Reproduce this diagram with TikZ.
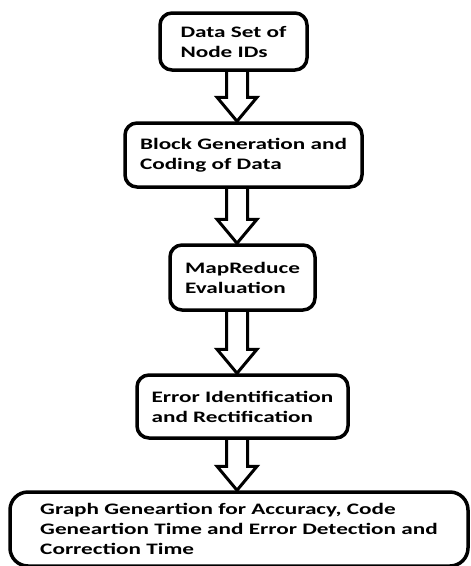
\documentclass[tikz,border=0pt]{standalone}
\usepackage{fontspec}
\setmainfont{Carlito}[FakeStretch=1.45]
\usetikzlibrary{calc}

\tikzset{
  stepbox/.style={draw, line width=3.5pt, rounded corners=12pt, align=left,
    font=\bfseries\fontsize{16}{20}\selectfont, inner sep=0pt},
  fatarrow/.style={line width=3pt, line join=miter,
    to path={let \p1=(\tikztostart), \p2=(\tikztotarget) in
      (\x1-10.5pt,\y1) -- (\x1-10.5pt,\y2+24pt) -- (\x1-20pt,\y2+24pt) -- (\x2,\y2)
      -- (\x1+20pt,\y2+24pt) -- (\x1+10.5pt,\y2+24pt) -- (\x1+10.5pt,\y1)}}
}

\begin{document}
\begin{tikzpicture}[x=1pt,y=-1pt]
  \useasboundingbox (0,0) rectangle (471,566);
  \coordinate (axis) at (237,0);
  \node[stepbox, minimum width=147pt, minimum height=57pt] (data) at (233.5,41.5) {Data Set of\\Node IDs};
  \node[stepbox, minimum width=237pt, minimum height=64pt] (block) at (243.5,155) {Block Generation and\\Coding of Data};
  \node[stepbox, minimum width=145pt, minimum height=65pt] (mapred) at (242.5,277.5) {MapReduce\\Evaluation};
  \node[stepbox, minimum width=211pt, minimum height=63pt] (error) at (242.5,406.5) {Error Identification\\and Rectification};
  \node[stepbox, minimum width=458pt, minimum height=74pt, rounded corners=18pt] (graph) at (239,529) {Graph Geneartion for Accuracy, Code\\Geneartion Time and Error Detection and\\Correction Time};
  % hollow arrows between the steps
  \draw[fatarrow] (data.south -| axis) to (block.north -| axis);
  \draw[fatarrow] (block.south -| axis) to (mapred.north -| axis);
  \draw[fatarrow] (mapred.south -| axis) to (error.north -| axis);
  \draw[fatarrow] (error.south -| axis) to (graph.north -| axis);
\end{tikzpicture}
\end{document}
